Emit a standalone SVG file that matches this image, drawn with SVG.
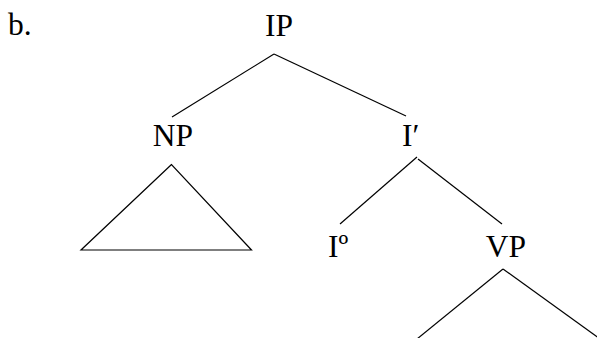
<svg xmlns="http://www.w3.org/2000/svg" width="597" height="338" viewBox="0 0 597 338">
<style>
text{font-family:"Liberation Serif","Times New Roman",serif;font-size:31.5px;fill:#000}
line,polygon{stroke:#000;stroke-width:1.2;fill:none}
</style>
<rect width="597" height="338" fill="#fff"/>
<g id="connectors">
<line x1="274" y1="54" x2="172" y2="117"/>
<line x1="274" y1="54" x2="406" y2="116"/>
<line x1="417" y1="157" x2="340" y2="224"/>
<line x1="418" y1="159" x2="502" y2="224"/>
<line x1="503" y1="269" x2="417" y2="339"/>
<line x1="503" y1="269" x2="600" y2="339"/>
</g>
<g id="label-b"><text x="8" y="35">b.</text></g>
<g id="IP"><text x="279" y="36" text-anchor="middle">IP</text></g>
<g id="NP"><text x="173" y="146" text-anchor="middle">NP</text>
<polygon points="171.5,164.5 81,250 251.5,250"/></g>
<g id="Ibar"><text x="402" y="146">I′</text></g>
<g id="I0"><text x="328" y="257">Iº</text></g>
<g id="VP"><text x="506" y="257" text-anchor="middle">VP</text></g>
</svg>
